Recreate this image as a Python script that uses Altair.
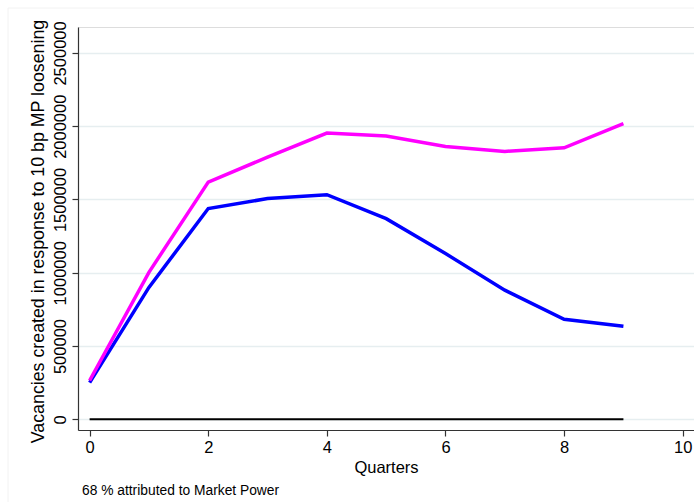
import altair as alt
import pandas as pd

# Impulse response of vacancies to a 10 bp monetary policy loosening
quarters = [0, 1, 2, 3, 4, 5, 6, 7, 8, 9]
total_response = [265000, 1003000, 1619000, 1789000, 1953000, 1933000, 1862000, 1828000, 1853000, 2017000]
competitive_response = [250000, 900000, 1438000, 1506000, 1533000, 1369000, 1131000, 881000, 683000, 635000]
y_ticks = [0, 500000, 1000000, 1500000, 2000000, 2500000]
x_ticks = [0, 2, 4, 6, 8, 10]
footnote = "68 % attributed to Market Power"

df_total = pd.DataFrame({"q": quarters, "v": total_response})
df_comp = pd.DataFrame({"q": quarters, "v": competitive_response})
df_zero = pd.DataFrame({"q": [quarters[0], quarters[-1]], "v": [0, 0]})

FONT = "Liberation Sans"

x_scale = alt.Scale(domain=[-0.196, 10.19], nice=False, zero=False)
y_scale = alt.Scale(domain=[-73000, 2677000], nice=False, zero=False)

x_enc = alt.X(
    "q:Q",
    scale=x_scale,
    axis=alt.Axis(
        values=x_ticks,
        title="Quarters",
        format="d",
        grid=False,
        tickSize=6,
        labelPadding=3,
        titlePadding=4,
    ),
)
y_enc = alt.Y(
    "v:Q",
    scale=y_scale,
    axis=alt.Axis(
        values=y_ticks,
        title="Vacancies created in response to 10 bp MP loosening",
        titleFontSize=17.8,
        titleY=204,
        format="d",
        grid=True,
        gridColor="#e6eef0",
        gridWidth=1.5,
        tickSize=6,
        labelAngle=270,
        labelAlign="center",
        labelBaseline="bottom",
        labelPadding=4,
        titlePadding=5,
    ),
)

zero_line = alt.Chart(df_zero).mark_line(color="black", strokeWidth=2).encode(x=x_enc, y=y_enc)

comp_line = alt.Chart(df_comp).mark_line(color="#0000ff", strokeWidth=3.5).encode(x="q:Q", y="v:Q")

total_line = alt.Chart(df_total).mark_line(color="#ff00ff", strokeWidth=3.5).encode(x="q:Q", y="v:Q")

note = alt.Chart(pd.DataFrame({"t": [footnote]})).mark_text(
    align="left", baseline="middle", fontSize=13.8, font=FONT, color="black"
).encode(x=alt.value(4), y=alt.value(464), text="t:N")

frame = alt.Chart(pd.DataFrame({"a": [0]})).mark_rect(
    fill=None, stroke="#f2f2f2", strokeWidth=1
).encode(x=alt.value(-70), x2=alt.value(700), y=alt.value(-19), y2=alt.value(500))

chart = (
    alt.layer(frame, zero_line, comp_line, total_line, note)
    .properties(
        width=616,
        height=403,
        autosize=alt.AutoSizeParams(type="none"),
        padding={"left": 78, "top": 27, "right": 0, "bottom": 72},
    )
    .configure_view(stroke=None)
    .configure(background="white")
    .configure_axis(
        domainColor="#333333",
        domainWidth=1.2,
        tickColor="#333333",
        tickWidth=1.2,
        labelFont=FONT,
        titleFont=FONT,
        labelFontSize=16.5,
        titleFontSize=16.5,
        labelColor="black",
        titleColor="black",
        titleFontWeight="normal",
    )
)

chart.save("out.html", embed_options={"renderer": "svg", "actions": False})
